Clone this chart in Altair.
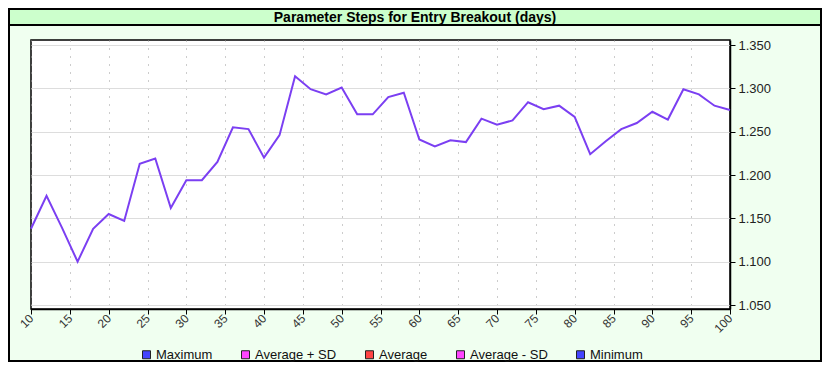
import altair as alt
import pandas as pd

# ---- data ----
title_text = "Parameter Steps for Entry Breakout (days)"
days = list(range(10, 101, 2))
values = [1.138, 1.176, 1.139, 1.100, 1.138, 1.155, 1.147, 1.213, 1.219, 1.162,
          1.194, 1.194, 1.215, 1.255, 1.253, 1.220, 1.246, 1.314, 1.299, 1.293,
          1.301, 1.270, 1.270, 1.290, 1.295, 1.241, 1.233, 1.240, 1.238, 1.265,
          1.258, 1.263, 1.284, 1.276, 1.280, 1.267, 1.224, 1.239, 1.253, 1.260,
          1.273, 1.264, 1.299, 1.293, 1.280, 1.275]
series_names = ["Maximum", "Average + SD", "Average", "Average - SD", "Minimum"]
series_colors = ["#4444ff", "#ff44ff", "#ff4444", "#ff44ff", "#4444ff"]
x_ticks = [10, 15, 20, 25, 30, 35, 40, 45, 50, 55, 60, 65, 70, 75, 80, 85, 90, 95, 100]
y_ticks = [1.05, 1.10, 1.15, 1.20, 1.25, 1.30, 1.35]

FONT = "Liberation Sans"
W, H = 699, 269
PAD = {"left": 23, "top": 32, "right": 92, "bottom": 53}

line_df = pd.DataFrame({"day": days, "value": values})
legend_df = pd.DataFrame({"series": series_names,
                          "day": [days[0]] * len(series_names),
                          "value": [1.0] * len(series_names)})
one = pd.DataFrame({"t": [title_text]})

x_axis = alt.Axis(values=x_ticks, title=None, labelAngle=-45,
                  labelAlign="right", labelBaseline="middle",
                  labelOverlap=False, tickCount=19,
                  labelFont=FONT, labelFontSize=12, labelColor="#333333",
                  labelPadding=2, tickSize=5, tickColor="#000000",
                  domainColor="#000000", domainWidth=1.5,
                  grid=True, gridDash=[1, 7], gridColor="#999999", gridWidth=1)
y_axis = alt.Axis(orient="right", values=y_ticks, format=".3f", title=None,
                  labelOverlap=False,
                  labelFont=FONT, labelFontSize=13, labelColor="#222222",
                  labelPadding=3, tickSize=5, tickColor="#000000",
                  domainColor="#000000", domainWidth=1.5,
                  grid=True, gridColor="#dddddd", gridWidth=1.2)
x_scale = alt.Scale(domain=[10, 100], nice=False, zero=False)
y_scale = alt.Scale(domain=[1.0454, 1.3558], nice=False, zero=False)

border = alt.Chart(one).mark_rect(fillOpacity=0, stroke="#000000", strokeWidth=2).encode(
    x=alt.value(-22), x2=alt.value(790), y=alt.value(-31), y2=alt.value(321))
bar = alt.Chart(one).mark_rect(fill="#ccffcc", stroke="#000000", strokeWidth=2).encode(
    x=alt.value(-22), x2=alt.value(790), y=alt.value(-31), y2=alt.value(-15))
title = alt.Chart(one).mark_text(font=FONT, fontSize=14, fontWeight="bold",
                                 color="#000000", align="center", baseline="middle").encode(
    x=alt.value(384), y=alt.value(-22.5), text="t:N")

line = alt.Chart(line_df).mark_line(color="#7b3ff2", strokeWidth=2).encode(
    x=alt.X("day:Q", scale=x_scale, axis=x_axis),
    y=alt.Y("value:Q", scale=y_scale, axis=y_axis))

legend_layer = alt.Chart(legend_df).mark_square(size=64, opacity=1, stroke="#222222",
                                                strokeWidth=1, clip=True).encode(
    x=alt.X("day:Q", scale=x_scale, axis=x_axis),
    y=alt.Y("value:Q", scale=y_scale, axis=y_axis),
    color=alt.Color("series:N",
                    scale=alt.Scale(domain=series_names, range=series_colors),
                    sort=series_names,
                    legend=alt.Legend(title=None, orient="none", legendX=109, legendY=308,
                                      direction="horizontal", symbolType="square",
                                      symbolSize=64, symbolStrokeColor="#222222",
                                      symbolStrokeWidth=1, labelFont=FONT,
                                      labelFontSize=13, labelColor="#111111",
                                      labelOffset=3, columnPadding=26)))

chart = alt.layer(border, bar, title, line, legend_layer).properties(
    width=W, height=H, padding=PAD,
    autosize=alt.AutoSizeParams(type="none"),
    background="#f0fff0",
).configure_view(fill="#ffffff", stroke="#000000", strokeWidth=1.5)

chart.save("out.html", embed_options={"renderer": "svg", "actions": False})
